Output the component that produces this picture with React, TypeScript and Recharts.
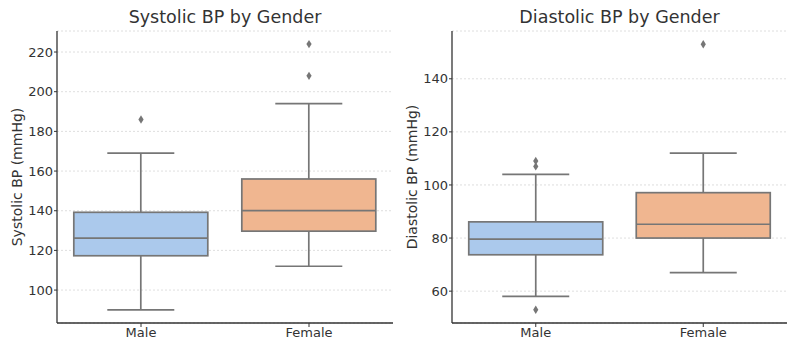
import React from 'react'
import { ComposedChart, Bar, Line, XAxis, YAxis, CartesianGrid, Label } from 'recharts'

const categories = ['Male', 'Female']

// Systolic BP (mmHg)
const sysLow = [90, 112]
const sysQ1 = [117.3, 129.7]
const sysMedian = [126.2, 140]
const sysQ3 = [139.2, 156]
const sysHigh = [169, 194]
const sysOutliers = [[186], [208, 224]]
const sysTicks = [100, 120, 140, 160, 180, 200, 220]

// Diastolic BP (mmHg)
const diaLow = [58, 67]
const diaQ1 = [73.7, 80]
const diaMedian = [79.6, 85.2]
const diaQ3 = [86.1, 97.1]
const diaHigh = [104, 112]
const diaOutliers = [[53, 107, 109], [153]]
const diaTicks = [60, 80, 100, 120, 140]

const boxColors = ['#abc9ec', '#f0b690']
const lineColor = '#767676'
const textColor = '#333333'
const font = 'DejaVu Sans, sans-serif'

const buildRows = (low: number[], q1: number[], med: number[], q3: number[], high: number[], outs: number[][]) =>
  categories.map((name, i) => ({
    name,
    idx: i,
    range: [low[i], high[i]],
    low: low[i], q1: q1[i], med: med[i], q3: q3[i], high: high[i],
    o0: outs[i][0] ?? null,
    o1: outs[i][1] ?? null,
    o2: outs[i][2] ?? null,
  }))

const BoxShape = (props: any) => {
  const { x, y, width, height, payload } = props
  const { low, high, q1, q3, med, idx } = payload
  // map values with the bar's own pixel range (bar spans low..high)
  const py = (v: number) => y + (height * (high - v)) / (high - low)
  const cx = x + width / 2
  const cap = width / 4
  const sw = 1.7
  return (
    <g>
      <line x1={cx} x2={cx} y1={py(high)} y2={py(q3)} stroke={lineColor} strokeWidth={sw} />
      <line x1={cx} x2={cx} y1={py(q1)} y2={py(low)} stroke={lineColor} strokeWidth={sw} />
      <line x1={cx - cap} x2={cx + cap} y1={py(high)} y2={py(high)} stroke={lineColor} strokeWidth={sw} />
      <line x1={cx - cap} x2={cx + cap} y1={py(low)} y2={py(low)} stroke={lineColor} strokeWidth={sw} />
      <rect x={x} y={py(q3)} width={width} height={py(q1) - py(q3)} fill={boxColors[idx]} stroke={lineColor} strokeWidth={sw} />
      <line x1={x} x2={x + width} y1={py(med)} y2={py(med)} stroke={lineColor} strokeWidth={sw} />
    </g>
  )
}

const Diamond = (props: any) => {
  const { cx, cy, value } = props
  if (value == null || cy == null) return <g />
  return <path d={`M${cx},${cy - 4.2} L${cx + 2.6},${cy} L${cx},${cy + 4.2} L${cx - 2.6},${cy} Z`} fill={lineColor} />
}

const BoxPanel = ({ rows, ticks, domain, title, yLabel, width }: any) => (
  <div style={{ position: 'relative', width, height: 343 }}>
    <div style={{
      position: 'absolute', left: 57, width: width - 57, top: 7, textAlign: 'center',
      fontFamily: font, fontSize: 17.5, color: textColor,
    }}>{title}</div>
    <ComposedChart width={width} height={343} data={rows} barCategoryGap="10%"
      margin={{ top: 31, right: 0, bottom: 0, left: 0 }}>
      <CartesianGrid vertical={false} stroke="#d6d6d6" strokeDasharray="2 2" strokeWidth={0.8} />
      <XAxis dataKey="name" height={20} tickSize={4} tickMargin={1}
        axisLine={{ stroke: '#333', strokeWidth: 1.3 }} tickLine={{ stroke: '#333' }}
        tick={{ fill: textColor, fontSize: 13, fontFamily: font }} />
      <YAxis width={57} domain={domain} ticks={ticks} type="number" allowDataOverflow
        tickSize={3} tickMargin={1}
        axisLine={{ stroke: '#333', strokeWidth: 1.3 }} tickLine={{ stroke: '#333' }}
        tick={{ fill: textColor, fontSize: 13, fontFamily: font }}>
        <Label value={yLabel} angle={-90} position="insideLeft" offset={17}
          style={{ textAnchor: 'middle', fill: textColor, fontSize: 14, fontFamily: font }} />
      </YAxis>
      <Bar dataKey="range" shape={<BoxShape />} isAnimationActive={false} />
      {['o0', 'o1', 'o2'].map(k => (
        <Line key={k} dataKey={k} stroke="none" dot={<Diamond />} activeDot={false}
          isAnimationActive={false} connectNulls={false} />
      ))}
    </ComposedChart>
  </div>
)

export default function App() {
  const sysRows = buildRows(sysLow, sysQ1, sysMedian, sysQ3, sysHigh, sysOutliers)
  const diaRows = buildRows(diaLow, diaQ1, diaMedian, diaQ3, diaHigh, diaOutliers)
  return (
    <div style={{ position: 'absolute', left: 0, top: 0, width: 787, height: 343, display: 'flex', background: '#fff' }}>
      <div style={{ width: 395 }}>
        <BoxPanel rows={sysRows} ticks={sysTicks} domain={[83.4, 230.6]} width={393}
          title="Systolic BP by Gender" yLabel="Systolic BP (mmHg)" />
      </div>
      <BoxPanel rows={diaRows} ticks={diaTicks} domain={[48, 158]} width={392}
        title="Diastolic BP by Gender" yLabel="Diastolic BP (mmHg)" />
    </div>
  )
}
